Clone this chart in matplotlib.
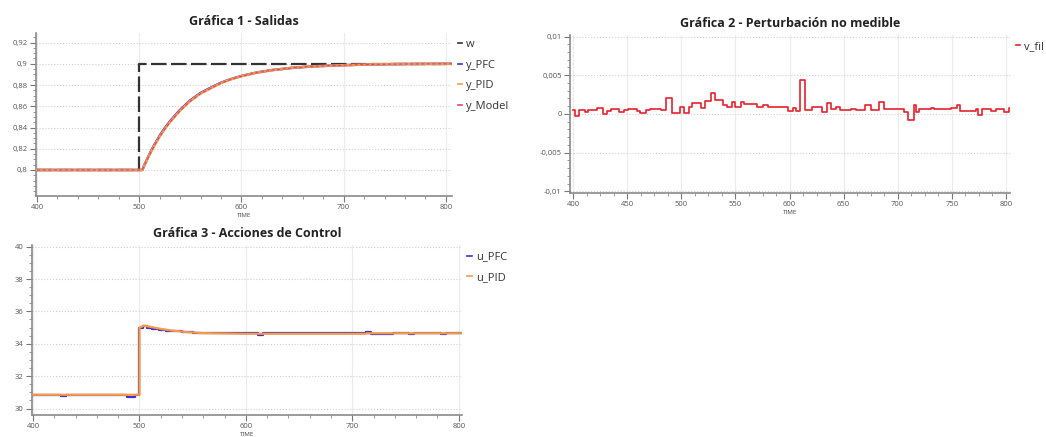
import matplotlib
matplotlib.use('Agg')
import matplotlib.pyplot as plt
from matplotlib.ticker import MultipleLocator, AutoMinorLocator, FuncFormatter

# Gráfica 1 - salidas
t_w = [400, 500, 500, 806]
w = [0.8, 0.8, 0.9, 0.9]
t_y = [400, 503, 505, 510, 515, 520, 525, 530, 540, 550, 560, 570, 580,
       590, 600, 615, 630, 650, 670, 700, 730, 760, 806]
y_pfc = [0.800, 0.800, 0.8046, 0.8148, 0.8240, 0.8322, 0.8394, 0.8457, 0.8567,
         0.8656, 0.8725, 0.8775, 0.8822, 0.8857, 0.8885, 0.8918, 0.8941,
         0.8962, 0.8976, 0.8987, 0.8995, 0.8998, 0.900]
y_pid = [0.800, 0.800, 0.8044, 0.8144, 0.8234, 0.8315, 0.8387, 0.8450, 0.8560,
         0.8650, 0.8720, 0.8770, 0.8819, 0.8855, 0.8884, 0.8917, 0.8940,
         0.8962, 0.8976, 0.8987, 0.8995, 0.8998, 0.900]
y_model = [0.800, 0.800, 0.8042, 0.8142, 0.8232, 0.8313, 0.8385, 0.8448, 0.8558,
           0.8648, 0.8718, 0.8769, 0.8818, 0.8854, 0.8883, 0.8916, 0.8940,
           0.8961, 0.8976, 0.8987, 0.8995, 0.8998, 0.900]
y1_ticks = [0.8, 0.82, 0.84, 0.86, 0.88, 0.9, 0.92]

# Gráfica 2 - perturbación (señal escalonada)
t_v = [400, 402, 405, 411, 414, 422, 427, 431, 435, 442, 447, 451, 459, 462,
       467, 471, 481, 486, 491, 499, 502, 507, 510, 518, 522, 527, 531, 538,
       542, 547, 550, 555, 558, 570, 575, 580, 595, 599, 603, 606, 610, 614,
       621, 630, 635, 638, 643, 647, 657, 661, 670, 675, 683, 687, 695, 706,
       710, 715, 717, 720, 731, 734, 743, 749, 755, 758, 772, 774, 778, 786,
       791, 798, 803, 805]
v_fil = [0.0005, -0.0003, 0.00055, 0.0002, 0.00055, 0.0008, 0.0, 0.0004,
         0.0007, 0.0003, 0.0005, 0.0007, 0.0004, 0.0001, 0.0005, 0.0006,
         0.0005, 0.002, 0.0001, 0.00085, 0.0001, 0.0009, 0.0014, 0.0008,
         0.0017, 0.0027, 0.0018, 0.0012, 0.00085, 0.0015, 0.00085, 0.0016,
         0.0013, 0.0009, 0.0011, 0.00085, 0.0009, 0.0004, 0.0008, 0.0004,
         0.0044, 0.00055, 0.0009, 0.0003, 0.0014, 0.0006, 0.0009, 0.00055,
         0.0007, 0.00055, 0.00115, 0.00055, 0.0016, 0.0007, 0.0006, 0.0002,
         -0.0008, 0.0012, 0.0003, 0.0006, 0.0008, 0.0006, 0.0007, 0.0008,
         0.0012, 0.0004, 0.0006, -0.0001, 0.0006, 0.0004, 0.0006, 0.0002,
         0.0008, 0.0008]

# Gráfica 3 - acciones de control
t_u_pfc = [400, 426, 431, 488, 496, 500, 503, 507, 512, 518, 525, 532, 540,
           550, 560, 611, 616, 713, 718, 733, 738, 753, 758, 783, 788, 806]
u_pfc = [30.85, 30.75, 30.85, 30.72, 30.85, 35.0, 35.08, 34.98, 34.92, 34.86,
         34.8, 34.76, 34.72, 34.69, 34.68, 34.55, 34.67, 34.72, 34.62, 34.58,
         34.64, 34.58, 34.64, 34.58, 34.64, 34.64]
t_u_pid = [400, 500, 500, 504, 510, 520, 530, 545, 560, 600, 712, 714, 806]
u_pid = [30.85, 30.85, 35.0, 35.12, 35.05, 34.92, 34.82, 34.72, 34.66, 34.62,
         34.62, 34.65, 34.65]

plt.rcParams['font.family'] = ['Open Sans', 'DejaVu Sans']

fig = plt.figure(figsize=(10.46, 4.37), dpi=100)
ax1 = fig.add_axes([0.0344, 0.5515, 0.3977, 0.373])
ax2 = fig.add_axes([0.545, 0.5584, 0.4207, 0.3616])
ax3 = fig.add_axes([0.0306, 0.0503, 0.411, 0.389])

coma = FuncFormatter(lambda v, p: ('%g' % round(v, 6)).replace('.', ','))


def estilo(ax, titulo, xmaj, xmin_div, ymaj, ymin_div):
    for s in ['top', 'right']:
        ax.spines[s].set_visible(False)
    for s in ['left', 'bottom']:
        ax.spines[s].set_color('#8a8a8a')
        ax.spines[s].set_linewidth(1.2)
    ax.xaxis.set_major_locator(MultipleLocator(xmaj))
    ax.xaxis.set_minor_locator(AutoMinorLocator(xmin_div))
    ax.yaxis.set_major_locator(MultipleLocator(ymaj))
    ax.yaxis.set_minor_locator(AutoMinorLocator(ymin_div))
    ax.yaxis.set_major_formatter(coma)
    ax.tick_params(which='major', length=4, width=0.8, color='#777777',
                   labelsize=5.5, labelcolor='#555555', pad=2)
    ax.tick_params(which='minor', length=2, width=0.6, color='#888888')
    ax.grid(True, axis='y', which='major', color='#d0d0d0', linestyle=':', linewidth=0.8)
    ax.grid(True, axis='x', which='major', color='#ececec', linestyle='-', linewidth=0.8)
    ax.set_axisbelow(True)
    ax.set_title(titulo, fontsize=9, fontweight='bold', color='#222222', pad=6)
    ax.set_xlabel('TIME', fontsize=4.5, color='#444444', labelpad=1)


def leyenda(ax):
    leg = ax.legend(loc='upper left', bbox_to_anchor=(1.0, 0.995), frameon=False,
                    handlelength=0.4, handletextpad=0.35, labelspacing=0.85,
                    fontsize=8, borderaxespad=0.1, labelcolor='#333333')
    for h in leg.legend_handles:
        h.set_linewidth(1.2)
        h.set_linestyle('-')


# Gráfica 1
ax1.plot(t_w, w, color='#333333', linestyle=(0, (7, 2)), linewidth=1.6, label='w', zorder=2)
ax1.plot(t_y, y_pfc, color='#3b2fd6', linewidth=1.8, label='y_PFC', zorder=3)
ax1.plot(t_y, y_pid, color='#f59a45', linewidth=1.8, label='y_PID', zorder=4)
ax1.plot(t_y, y_model, color='#e0456e', linewidth=0.8, linestyle=(0, (3, 2)), label='y_Model', zorder=5)
estilo(ax1, 'Gráfica 1 - Salidas', 100, 5, 0.02, 4)
ax1.set_yticks(y1_ticks)
ax1.yaxis.set_minor_locator(MultipleLocator(0.005))
ax1.set_xlim(399, 806)
ax1.set_ylim(0.7755, 0.929)
leyenda(ax1)

# Gráfica 2
ax2.step(t_v, v_fil, where='post', color='#e8202e', linewidth=1.2, label='v_fil')
estilo(ax2, 'Gráfica 2 - Perturbación no medible', 50, 4, 0.005, 5)
ax2.set_xlim(397, 804)
ax2.set_ylim(-0.0102, 0.0102)
leyenda(ax2)

# Gráfica 3
ax3.step(t_u_pfc, u_pfc, where='post', color='#3b2fd6', linewidth=1.6, label='u_PFC', zorder=3)
ax3.plot(t_u_pid, u_pid, color='#f59a45', linewidth=1.6, label='u_PID', zorder=4)
estilo(ax3, 'Gráfica 3 - Acciones de Control', 100, 5, 2, 4)
ax3.set_xlim(399, 803)
ax3.set_ylim(29.6, 40.1)
leyenda(ax3)

fig.savefig('out.png', dpi=100, facecolor='white')
